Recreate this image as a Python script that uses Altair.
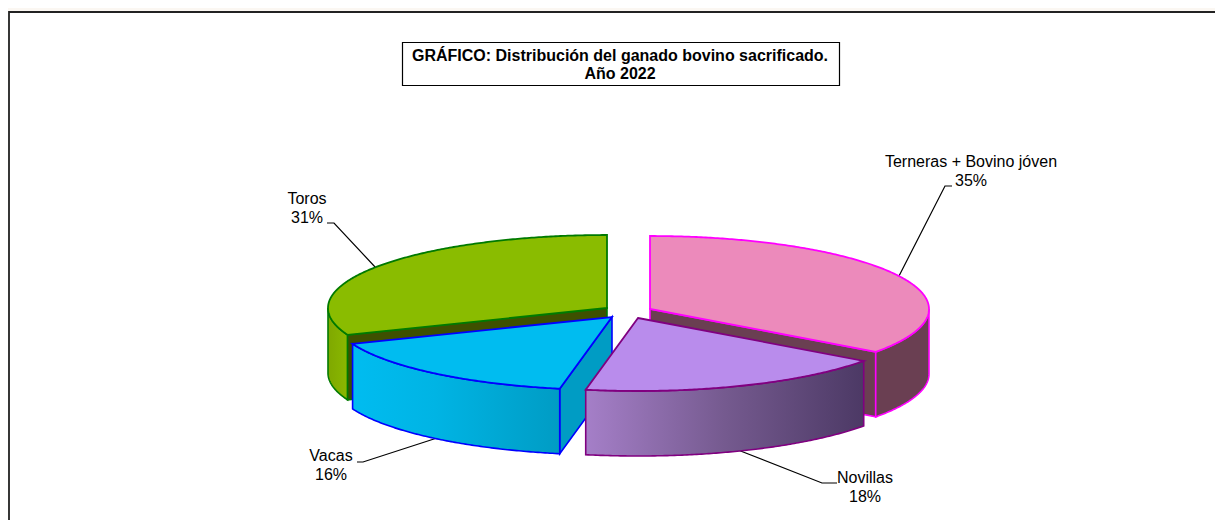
import numpy as np
import pandas as pd
import altair as alt

# ---- values
categories = ["Terneras + Bovino jóven", "Novillas", "Vacas", "Toros"]
shares = [35, 18, 16, 31]
apex_x = [650, 638, 612, 607]      # exploded slice apex
apex_y = [309, 318, 317, 308]
label_x = [971, 865, 331, 307]
label_y = [162, 478, 456, 199]
title_lines = ["GRÁFICO: Distribución del ganado bovino sacrificado.", "Año 2022"]

RX, RY, DEPTH = 279, 73, 65
W, H = 1207, 512

top_fill = ["#ec8abb", "#b98cec", "#00bcf0", "#8abc00"]
edge = ["#ff00ff", "#800080", "#0000ff", "#007a00"]
dark = ["#6a3f52", "#4f3a66", "#009cc4", "#3e5000"]

proj = alt.Projection(type="identity", scale=1, translate=[-8, -8])


def shape(coords, kind="Polygon", **style):
    geom = {"type": kind, "coordinates": [coords] if kind == "Polygon" else coords}
    data = alt.Data(values=[{"type": "Feature", "properties": {}, "geometry": geom}])
    return alt.Chart(data).mark_geoshape(**style).project(**proj.to_dict())


def ell(i, a):
    t = np.radians(a)
    return [float(apex_x[i] + RX * np.sin(t)), float(apex_y[i] - RY * np.cos(t))]


def arc(i, a0, a1):
    n = max(2, int(abs(a1 - a0)) * 2)
    return [ell(i, a) for a in np.linspace(a0, a1, n)]


def down(pts):
    return [[p[0], p[1] + DEPTH] for p in pts]


def wall(i, a0, a1, fill):
    pts = arc(i, a0, a1)
    return shape(pts + down(pts)[::-1] + [pts[0]], fill=fill, stroke=edge[i], strokeWidth=1.6)


def radial(i, a, fill):
    p = ell(i, a)
    q = [apex_x[i], apex_y[i]]
    pts = [p, q]
    return shape(pts + down(pts)[::-1] + [p], fill=fill, stroke=edge[i], strokeWidth=1.6)


def top(i, a0, a1):
    q = [apex_x[i], apex_y[i]]
    return shape([q] + arc(i, a0, a1) + [q], fill=top_fill[i], stroke=edge[i], strokeWidth=1.8)


def grad(*stops):
    return alt.Gradient(
        gradient="linear", x1=0, x2=1, y1=0, y2=0,
        stops=[alt.GradientStop(offset=o, color=c) for o, c in stops],
    )


edges = np.cumsum([0] + shares) * 3.6
a = [(float(edges[i]), float(edges[i + 1])) for i in range(4)]

# ---- frame, title box, leader lines
frame = shape([[9, 12], [1300, 12], [1300, 600], [9, 600], [9, 12]],
              fill="#ffffff", stroke="#222222", strokeWidth=1.8)
title_box = shape([[402.5, 42.5], [839.5, 42.5], [839.5, 85.5], [402.5, 85.5], [402.5, 42.5]],
                  fill="#ffffff", stroke="#000000", strokeWidth=1.2)
leaders = [
    [[952, 186], [945, 186], [899, 276]],
    [[837, 483], [822, 483], [738, 450]],
    [[357, 462], [363, 462], [437, 438]],
    [[327, 223], [334, 223], [376, 268]],
]
leader_layers = [shape(l, kind="LineString", filled=False, stroke="#000000", strokeWidth=1.2) for l in leaders]

slices = [
    # Toros (back)
    wall(3, a[3][0], 270, grad((0, "#7fa800"), (1, "#8ab800"))),
    radial(3, a[3][0], dark[3]),
    top(3, *a[3]),
    # Terneras
    radial(0, a[0][1], dark[0]),
    wall(0, 90, a[0][1], dark[0]),
    top(0, *a[0]),
    # Vacas
    radial(2, a[2][0], dark[2]),
    wall(2, a[2][0], a[2][1], grad((0, "#00bcf0"), (0.4, "#00b4e4"), (1, "#009cc4"))),
    top(2, *a[2]),
    # Novillas
    wall(1, a[1][0], a[1][1], grad((0, "#a57fc8"), (0.5, "#755a8f"), (1, "#4c3965"))),
    top(1, *a[1]),
]

rows = []
for name, s, x, y in zip(categories, shares, label_x, label_y):
    rows.append({"x": x, "y": y, "t": name})
    rows.append({"x": x, "y": y + 18.5, "t": f"{s}%"})
labels = alt.Chart(pd.DataFrame(rows)).mark_text(
    font="Liberation Sans", fontSize=16, color="#000000", align="center", baseline="middle"
).encode(longitude="x:Q", latitude="y:Q", text="t:N").project(**proj.to_dict())

title_df = pd.DataFrame({"x": [620, 620], "y": [56, 74], "t": title_lines})
title_text = alt.Chart(title_df).mark_text(
    font="Liberation Sans", fontSize=16, fontWeight="bold", color="#000000", align="center", baseline="middle"
).encode(longitude="x:Q", latitude="y:Q", text="t:N").project(**proj.to_dict())

chart = alt.layer(frame, title_box, *leader_layers, *slices, labels, title_text).properties(
    width=W, height=H, padding=0, background="#fbf7f2",
    autosize=alt.AutoSizeParams(type="none"),
).configure_view(stroke=None)

chart.save("out.html", embed_options={"renderer": "svg", "actions": False})
